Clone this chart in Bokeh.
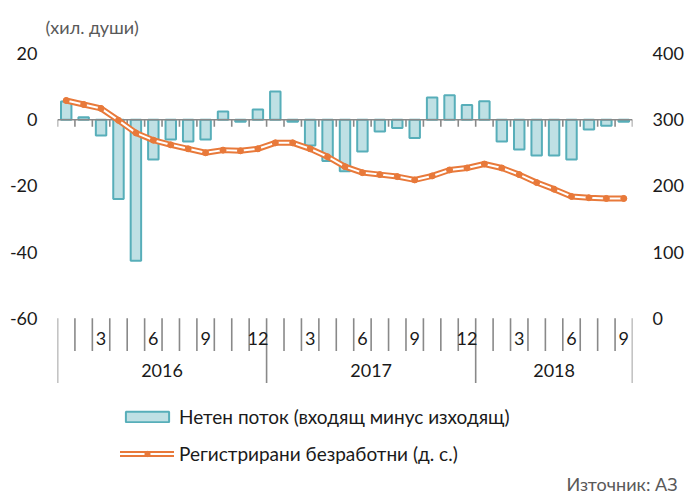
from bokeh.plotting import figure
from bokeh.models import (Range1d, LinearAxis, FixedTicker, Legend, LegendItem,
                          Title, ColumnDataSource, Grid)
from bokeh.core.properties import value
from bokeh.embed import file_html
from bokeh.resources import INLINE

# ---------------- data ----------------
years = ["2016", "2017", "2018"]
months_per_year = [12, 12, 9]
month_tick_labels = ["3", "6", "9", "12"]
month_tick_months = [3, 6, 9, 12]

net_flow = [5.5, 0.7, -4.8, -24.0, -42.6, -12.0, -6.0, -6.6, -6.0, 2.5, -0.6, 3.1,
            8.5, -0.6, -7.8, -12.5, -15.6, -9.6, -3.6, -2.5, -5.5, 6.7, 7.4, 4.4,
            5.6, -6.6, -9.0, -10.8, -10.8, -12.0, -3.0, -1.8, -0.6]
unemployed = [329, 323, 317, 299, 280, 269, 262, 256, 250, 254, 253, 256,
              265, 265, 256, 244, 229, 220, 217, 214, 209, 215, 224, 227,
              233, 227, 217, 205, 195, 184, 182, 181, 181]

left_ticks = [-60, -40, -20, 0, 20]
right_ticks = [0, 100, 200, 300, 400]

label_bars = "Нетен поток (входящ минус изходящ)"
label_line = "Регистрирани безработни (д. с.)"
y_title = "(хил. души)"
source_text = "Източник: АЗ"

# ---------------- layout ----------------
FONT = "Lato"
FS = "18px"
W, H = 687, 495
FL, FR, FT, FB = 57, 55, 53, 24
frame_w = W - FL - FR
frame_h = H - FT - FB
n = len(net_flow)
grid_px = 266.0                     # pixels from 20 to -60
ppu = grid_px / (left_ticks[-1] - left_ticks[0])
y_top = left_ticks[-1]
y_bot = y_top - frame_h / ppu


def yd(page_y):
    return y_top - (page_y - FT) / ppu


GRID_COLOR = "#898989"
BAR_LINE = "#57AEB9"
BAR_FILL = "#BFE0E4"
ORANGE = "#E8793A"
TEXT = "#1a1a1a"
GREY_TEXT = "#595959"

p = figure(width=W, height=H, output_backend="svg", toolbar_location=None,
           x_range=Range1d(0, n), y_range=Range1d(y_bot, y_top),
           x_axis_location=None, y_axis_location=None,
           min_border_left=FL, min_border_right=FR,
           min_border_top=FT, min_border_bottom=FB,
           outline_line_color=None, background_fill_color="white")
p.extra_y_ranges = {"r": Range1d((y_bot - left_ticks[0]) * 5, right_ticks[-1])}

# grid lines
p.add_layout(Grid(dimension=1, ticker=FixedTicker(ticks=left_ticks),
                  grid_line_color=GRID_COLOR, grid_line_width=1.6))

# axes
lax = LinearAxis(ticker=FixedTicker(ticks=left_ticks),
                 major_label_overrides={t: str(t) for t in left_ticks},
                 axis_line_color=None, major_tick_line_color=None,
                 minor_tick_line_color=None, major_tick_out=0, major_tick_in=0,
                 major_label_standoff=20,
                 major_label_text_font=FONT, major_label_text_font_size=FS,
                 major_label_text_color=TEXT)
p.add_layout(lax, "left")
rax = LinearAxis(y_range_name="r", ticker=FixedTicker(ticks=right_ticks),
                 major_label_overrides={t: str(t) for t in right_ticks},
                 axis_line_color=None, major_tick_line_color=None,
                 minor_tick_line_color=None, major_tick_out=0, major_tick_in=0,
                 major_label_standoff=20,
                 major_label_text_font=FONT, major_label_text_font_size=FS,
                 major_label_text_color=TEXT)
p.add_layout(rax, "right")

# bars
xs = [i + 0.5 for i in range(n)]
src = ColumnDataSource(dict(x=xs, net=net_flow, unemp=unemployed))
bars = p.vbar(x="x", top="net", bottom=0, width=0.6, source=src,
              fill_color=BAR_FILL, line_color=BAR_LINE, line_width=2)

# zero axis with ticks
p.segment(x0=[0], y0=[0], x1=[n], y1=[0], line_color=GRID_COLOR, line_width=1.6)
tick_len = 7 / ppu
bounds = list(range(n + 1))
p.segment(x0=bounds, y0=[0] * len(bounds), x1=bounds, y1=[-tick_len] * len(bounds),
          line_color=GRID_COLOR, line_width=1.6)

# unemployed line (double line)
l1 = p.line(x="x", y="unemp", source=src, y_range_name="r", line_color=ORANGE,
            line_width=6, line_join="round", line_cap="round")
l2 = p.line(x="x", y="unemp", source=src, y_range_name="r", line_color="white",
            line_width=2, line_join="round", line_cap="round")
sc = p.scatter(x="x", y="unemp", source=src, y_range_name="r", size=6,
               marker="circle", fill_color=ORANGE, line_color=ORANGE)

# category axis below
y_axis_top = left_ticks[0]
month_tick_bottom = yd(352)
year_tick_bottom = yd(384)
year_bounds = [0]
for m in months_per_year:
    year_bounds.append(year_bounds[-1] + m)
month_bounds = [b for b in bounds if b not in year_bounds]
p.segment(x0=month_bounds, y0=[y_axis_top] * len(month_bounds), x1=month_bounds,
          y1=[month_tick_bottom] * len(month_bounds), line_color=GRID_COLOR, line_width=1.6)
p.segment(x0=year_bounds, y0=[y_axis_top] * len(year_bounds), x1=year_bounds,
          y1=[year_tick_bottom] * len(year_bounds), line_color=GRID_COLOR, line_width=1.6)

mx, mt = [], []
for yi, cnt in enumerate(months_per_year):
    for m, lab in zip(month_tick_months, month_tick_labels):
        if m <= cnt:
            mx.append(year_bounds[yi] + m - 0.5)
            mt.append(lab)
p.text(x=mx, y=[yd(339)] * len(mx), text=mt, text_font=value(FONT),
       text_font_size=FS, text_align="center", text_baseline="middle",
       text_color=TEXT)
yx = [(year_bounds[i] + year_bounds[i + 1]) / 2 for i in range(len(years))]
p.text(x=yx, y=[yd(372)] * len(yx), text=years, text_font=value(FONT),
       text_font_size=FS, text_align="center", text_baseline="middle",
       text_color=TEXT)

# legend
legend = Legend(items=[LegendItem(label=label_bars, renderers=[bars]),
                       LegendItem(label=label_line, renderers=[l1, l2, sc])],
                location=(63, 4), orientation="vertical",
                glyph_width=54, glyph_height=13, label_standoff=5, spacing=14,
                label_height=21, padding=0, margin=0,
                border_line_color=None, background_fill_alpha=0,
                label_text_font=FONT, label_text_font_size="19px",
                label_text_color=TEXT)
p.add_layout(legend)

# header and source
p.add_layout(Title(text=y_title, align="left", offset=-12, standoff=28,
                   vertical_align="top",
                   text_font=FONT, text_font_size=FS, text_font_style="normal",
                   text_color=GREY_TEXT), "above")
p.add_layout(Title(text=source_text, align="right", offset=-45, standoff=2,
                   text_font=FONT, text_font_size=FS, text_font_style="normal",
                   text_color=GREY_TEXT), "below")

p.xgrid.grid_line_color = None
p.ygrid.grid_line_color = None

open("out.html", "w").write(file_html(p, INLINE))
